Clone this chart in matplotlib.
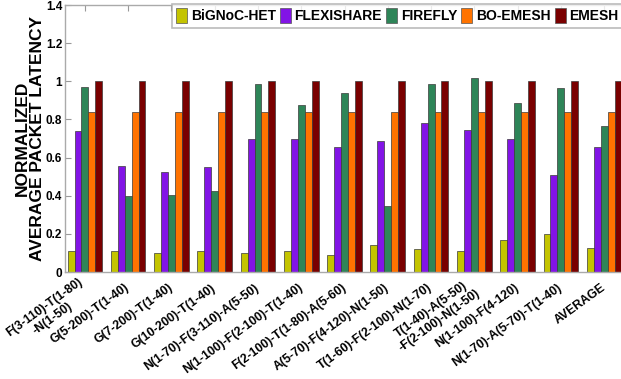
import numpy as np
import matplotlib
matplotlib.use("Agg")
import matplotlib.pyplot as plt
import matplotlib.transforms as mtransforms
from matplotlib.patches import Patch

categories = [
    "F(3-110)-T(1-80)\n-N(1-50)",
    "G(5-200)-T(1-40)",
    "G(7-200)-T(1-40)",
    "G(10-200)-T(1-40)",
    "N(1-70)-F(3-110)-A(5-50)",
    "N(1-100)-F(2-100)-T(1-40)",
    "F(2-100)-T(1-80)-A(5-60)",
    "A(5-70)-F(4-120)-N(1-50)",
    "T(1-60)-F(2-100)-N(1-70)",
    "T(1-40)-A(5-50)\n-F(2-100)-N(1-50)",
    "N(1-100)-F(4-120)",
    "N(1-70)-A(5-70)-T(1-40)",
    "AVERAGE",
]

series_names = ["BiGNoC-HET", "FLEXISHARE", "FIREFLY", "BO-EMESH", "EMESH"]

bignoc_het = [0.11, 0.11, 0.10, 0.11, 0.10, 0.11, 0.09, 0.14, 0.12, 0.11, 0.17, 0.20, 0.125]
flexishare = [0.74, 0.555, 0.525, 0.55, 0.70, 0.70, 0.654, 0.686, 0.78, 0.742, 0.70, 0.51, 0.654]
firefly = [0.97, 0.40, 0.405, 0.425, 0.988, 0.877, 0.94, 0.344, 0.984, 1.017, 0.888, 0.967, 0.768]
bo_emesh = [0.84, 0.84, 0.84, 0.84, 0.84, 0.84, 0.84, 0.84, 0.84, 0.84, 0.84, 0.84, 0.84]
emesh = [1.0] * 13

yticks = [0, 0.2, 0.4, 0.6, 0.8, 1.0, 1.2, 1.4]
ytick_labels = ["0", "0.2", "0.4", "0.6", "0.8", "1", "1.2", "1.4"]

colors = ["#C4C400", "#8214E6", "#2E8558", "#FF7300", "#7A0000"]

FONT = ["Liberation Sans", "DejaVu Sans"]

fig = plt.figure(figsize=(6.21, 3.79), dpi=100)
ax = fig.add_axes([0.1047, 0.2823, 0.9002, 0.7045])

x = np.arange(1, len(categories) + 1)
all_series = [bignoc_het, flexishare, firefly, bo_emesh, emesh]
n = len(all_series)
group_w = 0.8
bw = group_w / n
for i, (vals, col) in enumerate(zip(all_series, colors)):
    offs = (i - (n - 1) / 2) * bw
    ax.bar(x + offs, vals, width=bw, color=col, edgecolor="#3a3a3a",
           linewidth=0.5, zorder=2)

ax.set_xlim(0.54, 13.46)
ax.set_ylim(0, 1.4)
ax.set_yticks(yticks)
ax.set_yticklabels(ytick_labels, fontfamily=FONT, fontweight="bold",
                   fontsize=8.5)
ax.set_xticks(x)
ax.set_xticklabels(categories, rotation=36, ha="right", va="center",
                   rotation_mode="anchor", multialignment="center",
                   fontfamily=FONT, fontweight="bold", fontsize=8.8,
                   linespacing=1.2)
shift = mtransforms.ScaledTranslation(4 / 100, 0, fig.dpi_scale_trans)
for lbl in ax.get_xticklabels():
    lbl.set_transform(lbl.get_transform() + shift)

ax.tick_params(axis="both", direction="in", length=4, color="#999999",
               width=0.8, top=True, right=False)
ax.tick_params(axis="x", pad=10.5)
ax.tick_params(axis="y", pad=2)
for side in ["left", "bottom", "top"]:
    ax.spines[side].set_color("#aaaaaa")
    ax.spines[side].set_linewidth(1.0)
ax.spines["right"].set_visible(False)

ax.set_ylabel("NORMALIZED\nAVERAGE PACKET LATENCY", fontfamily=FONT,
              fontweight="bold", fontsize=12.5, linespacing=0.98)
ax.yaxis.set_label_coords(-0.036, 0.5)

handles = [Patch(facecolor=c, edgecolor="#555555", linewidth=0.5) for c in colors]
leg = fig.legend(handles, series_names, loc="upper left",
                 bbox_to_anchor=(172 / 621, 1 - 4 / 379), ncol=5,
                 prop={"family": FONT, "weight": "bold", "size": 10},
                 frameon=True, fancybox=False, borderpad=0.3,
                 handlelength=0.8, handleheight=1.3, handletextpad=0.25,
                 columnspacing=0.3, borderaxespad=0)
leg.get_frame().set_edgecolor("#aaaaaa")
leg.get_frame().set_linewidth(1.2)

fig.savefig("out.png", dpi=100)
